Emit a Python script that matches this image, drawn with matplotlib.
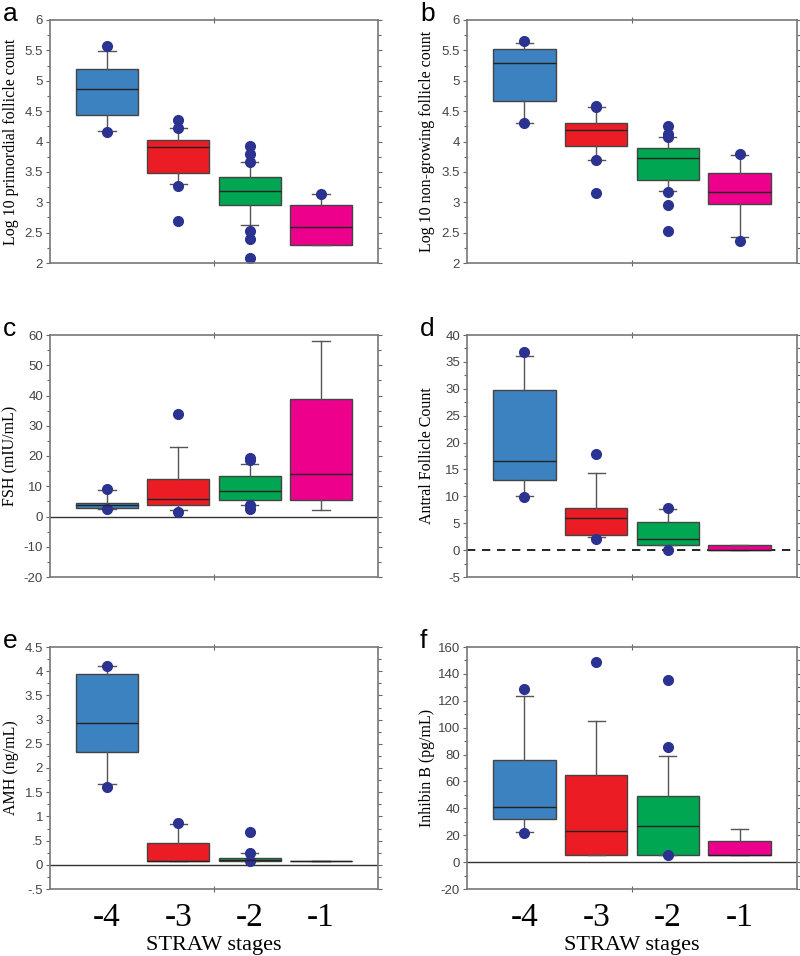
import matplotlib.pyplot as plt
from matplotlib.ticker import MultipleLocator, FixedLocator
import numpy as np

# STRAW stage groups
stages = ['-4', '-3', '-2', '-1']
box_colors = ['#3d82c0', '#ec1c24', '#00a651', '#ec008c']
flier_color = '#2b3290'

# a: log10 primordial follicle count
a_q1 = [4.43, 3.48, 2.96, 2.29]
a_med = [4.87, 3.91, 3.19, 2.60]
a_q3 = [5.20, 4.02, 3.41, 2.96]
a_lo = [4.17, 3.30, 2.63, 2.29]
a_hi = [5.49, 4.23, 3.66, 3.14]
a_fl = [[5.58, 4.16], [4.35, 4.23, 3.26, 2.69], [3.92, 3.79, 3.67, 2.53, 2.40, 2.08], [3.14]]

# b: log10 non-growing follicle count
b_q1 = [4.67, 3.92, 3.36, 2.97]
b_med = [5.29, 4.19, 3.73, 3.17]
b_q3 = [5.53, 4.31, 3.90, 3.48]
b_lo = [4.31, 3.69, 3.19, 2.43]
b_hi = [5.62, 4.56, 4.07, 3.78]
b_fl = [[5.66, 4.31], [4.59, 4.56, 3.69, 3.15], [4.25, 4.12, 4.07, 3.17, 2.96, 2.53], [3.79, 2.36]]

# c: FSH
c_q1 = [2.8, 3.7, 5.5, 5.5]
c_med = [3.7, 5.9, 8.3, 14.2]
c_q3 = [4.6, 12.5, 13.3, 38.8]
c_lo = [2.5, 2.2, 3.9, 2.2]
c_hi = [8.8, 23.0, 17.5, 58.0]
c_fl = [[9.2, 2.4], [33.8, 1.6], [19.3, 18.8, 3.9, 2.4], []]

# d: antral follicle count
d_q1 = [13.0, 2.8, 1.0, 0.0]
d_med = [16.6, 5.9, 2.0, 0.0]
d_q3 = [29.8, 7.8, 5.3, 1.0]
d_lo = [10.1, 2.5, 1.0, 0.0]
d_hi = [36.1, 14.4, 7.6, 1.0]
d_fl = [[36.9, 9.9], [17.9, 2.0], [7.9, 0.0], []]

# e: AMH
e_q1 = [2.34, 0.08, 0.08, 0.08]
e_med = [2.93, 0.08, 0.10, 0.08]
e_q3 = [3.95, 0.45, 0.14, 0.08]
e_lo = [1.67, 0.08, 0.08, 0.08]
e_hi = [4.11, 0.84, 0.24, 0.08]
e_fl = [[4.11, 1.61], [0.87], [0.68, 0.24, 0.08], []]

# f: inhibin B
f_q1 = [31.7, 5.4, 5.4, 5.4]
f_med = [41.0, 23.5, 27.2, 5.4]
f_q3 = [75.7, 64.5, 49.5, 15.8]
f_lo = [22.3, 5.4, 5.4, 5.4]
f_hi = [123.4, 104.6, 78.9, 25.0]
f_fl = [[129.1, 21.5], [148.6], [135.5, 85.8, 5.4], []]


def make_stats(q1, med, q3, lo, hi, fl):
    return [dict(q1=q1[i], med=med[i], q3=q3[i], whislo=lo[i], whishi=hi[i],
                 fliers=fl[i]) for i in range(len(q1))]


serif = 'Liberation Serif'
sans = 'Liberation Sans'

fig = plt.figure(figsize=(8, 9.56), dpi=100)

W, H = 800, 956
panels = [
    ('a', 'Log 10 primordial follicle count', make_stats(a_q1, a_med, a_q3, a_lo, a_hi, a_fl),
     (2, 6), 0.5, 0.25, None, (50, 20, 328, 243)),
    ('b', 'Log 10 non-growing follicle count', make_stats(b_q1, b_med, b_q3, b_lo, b_hi, b_fl),
     (2, 6), 0.5, 0.25, None, (467, 20, 330, 243)),
    ('c', 'FSH (mIU/mL)', make_stats(c_q1, c_med, c_q3, c_lo, c_hi, c_fl),
     (-20, 60), 10, 5, '-', (50, 335, 328, 242)),
    ('d', 'Antral Follicle Count', make_stats(d_q1, d_med, d_q3, d_lo, d_hi, d_fl),
     (-5, 40), 5, 2.5, '--', (467, 335, 330, 242)),
    ('e', 'AMH (ng/mL)', make_stats(e_q1, e_med, e_q3, e_lo, e_hi, e_fl),
     (-0.5, 4.5), 0.5, 0.25, '-', (50, 647, 328, 242)),
    ('f', 'Inhibin B (pg/mL)', make_stats(f_q1, f_med, f_q3, f_lo, f_hi, f_fl),
     (-20, 160), 20, 10, '-', (467, 647, 330, 242)),
]

for k, (letter, ylabel, stats, ylim, major, minor, zero, box) in enumerate(panels):
    x0, y0, w, h = box
    ax = fig.add_axes([x0 / W, 1 - (y0 + h) / H, w / W, h / H])
    pos = np.arange(1, 5)
    bp = ax.bxp(stats, positions=pos, widths=0.87, patch_artist=True,
                showfliers=True,
                boxprops=dict(edgecolor='#444444', linewidth=1.0),
                medianprops=dict(color='#222222', linewidth=1.0),
                whiskerprops=dict(color='#555555', linewidth=1.0),
                capprops=dict(color='#555555', linewidth=1.0),
                flierprops=dict(marker='o', markerfacecolor=flier_color,
                                markeredgecolor=flier_color, markersize=7))
    for patch, c in zip(bp['boxes'], box_colors):
        patch.set_facecolor(c)
    for cap in bp['caps']:
        xd = cap.get_xdata()
        mid = (xd[0] + xd[1]) / 2
        cap.set_xdata([mid - 0.12, mid + 0.12])

    if zero == '-':
        ax.axhline(0, color='#333333', linewidth=1.0, zorder=0)
    elif zero == '--':
        ax.axhline(0, color='black', linewidth=1.2, linestyle=(0, (5, 4)), zorder=0)

    ax.set_xlim(0.2, 4.8)
    ax.set_ylim(*ylim)
    ticks = np.arange(ylim[0], ylim[1] + major / 2, major)
    ax.yaxis.set_major_locator(FixedLocator(ticks))
    ax.yaxis.set_minor_locator(MultipleLocator(minor))
    labels = ['%g' % round(t, 3) for t in ticks]
    if letter == 'e':
        labels = [s.replace('0.', '.') if s in ('0.5', '-0.5') else s for s in labels]
    ax.set_yticklabels(labels, fontfamily=sans)
    ax.tick_params(axis='y', which='both', left=True, right=True, direction='out',
                   length=3, width=0.8, color='#666666', labelsize=9.5,
                   labelcolor='#444444', pad=2)
    ax.tick_params(axis='y', which='minor', length=2)

    ax.set_xticks(pos)
    ax.tick_params(axis='x', which='major', length=0, pad=10)
    ax.set_xticks([2.5], minor=True)
    ax.tick_params(axis='x', which='minor', top=True, bottom=True, direction='inout',
                   length=5, width=0.8, color='#666666')
    if letter in ('e', 'f'):
        ax.set_xticklabels(stages, fontfamily=serif, fontsize=24)
        ax.set_xlabel('STRAW stages', fontfamily=serif, fontsize=16, labelpad=2)
    else:
        ax.set_xticklabels([])

    ax.set_ylabel(ylabel, fontfamily=serif, fontsize=11.5, va='center')
    ax.yaxis.set_label_coords(-0.12, 0.5)

    for s in ax.spines.values():
        s.set_color('#777777')
        s.set_linewidth(1.2)

    # panel letter
    lx = 3 if letter in ('a', 'c', 'e') else 420
    ly = y0 + 1
    fig.text(lx / W, 1 - ly / H, letter, fontfamily=sans, fontsize=19,
             va='baseline', ha='left')

fig.savefig('out.png', dpi=100)
